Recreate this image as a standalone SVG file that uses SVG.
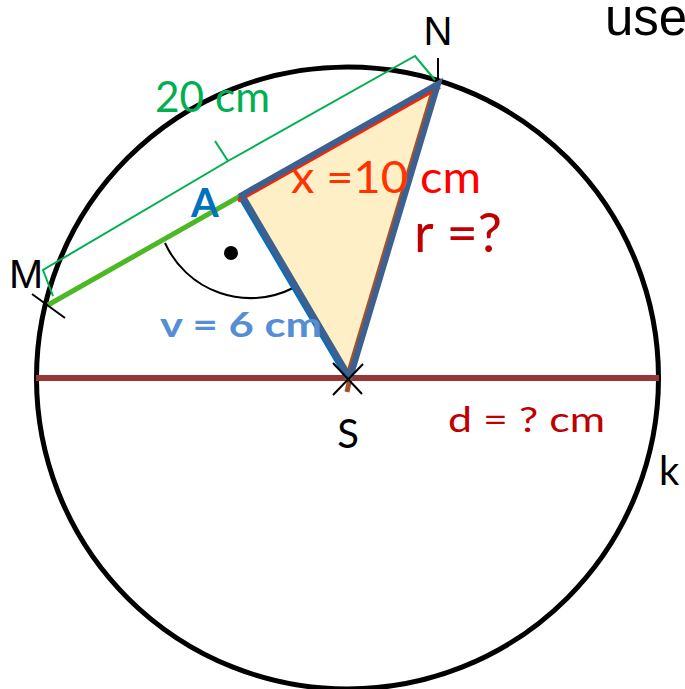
<svg xmlns="http://www.w3.org/2000/svg" width="685" height="689" viewBox="0 0 685 689">
<style>
.lbl{font-family:"Liberation Sans",Arial,sans-serif;}
.cal{font-family:Lato,"Open Sans",sans-serif;}
.tick{stroke:#000;stroke-width:2;fill:none;}
</style>
<rect width="685" height="689" fill="#fff"/>
<g id="circle-k">
<circle cx="347.5" cy="378" r="311" fill="none" stroke="#000" stroke-width="5"/>
</g>
<g id="connectors">
<line id="diameter" x1="36" y1="378" x2="659" y2="378" stroke="#953735" stroke-width="6"/>
<line id="chord-MN" x1="48" y1="305" x2="438" y2="84" stroke="#4DB826" stroke-width="5"/>
<path id="bracket" d="M53,296 L43,270 L228,161 L215,141 M228,161 L415,56 L435,80" fill="none" stroke="#00B050" stroke-width="2" stroke-linejoin="miter"/>
<path id="angle-arc" d="M165,243 A94,94 0 0 0 293,288" fill="none" stroke="#000" stroke-width="2"/>
<circle id="angle-dot" cx="231" cy="253" r="7" fill="#000"/>
</g>
<g id="triangle">
<polygon points="242,195 438,84 350,378" fill="#FFEFC6"/>
<line x1="239.4" y1="196.5" x2="347.4" y2="379.5" stroke="#0070C0" stroke-width="4"/>
<line x1="435" y1="83" x2="346" y2="380" stroke="#A0522D" stroke-width="4"/>
<line x1="238" y1="201" x2="440" y2="87" stroke="#FF2200" stroke-width="3.5"/>
<polygon points="242,195 438,84 350,378" fill="none" stroke="#3C6090" stroke-width="6" stroke-linejoin="miter"/>
<line x1="350" y1="378" x2="347" y2="392" stroke="#A0522D" stroke-width="5"/>
</g>
<g id="ticks">
<line class="tick" x1="32" y1="294" x2="65" y2="318"/>
<line class="tick" x1="438" y1="58" x2="438" y2="80"/>
<line class="tick" x1="333" y1="363" x2="362" y2="394"/>
<line class="tick" x1="363" y1="364" x2="333" y2="395"/>
</g>
<g id="node-N"><text class="lbl" x="438" y="45" font-size="40" text-anchor="middle" fill="#000">N</text></g>
<g id="node-M"><text class="lbl" x="9" y="288" font-size="41" fill="#000">M</text></g>
<g id="node-S"><text class="cal" x="348" y="448" font-size="40" text-anchor="middle" fill="#000">S</text></g>
<g id="node-k"><text class="cal" x="659" y="485" font-size="40" fill="#000">k</text></g>
<g id="node-A"><text class="cal" x="191" y="217" font-size="40" font-weight="bold" fill="#0070C0">A</text></g>
<g id="label-use"><text class="lbl" x="605" y="35" font-size="51" fill="#000">use</text></g>
<g id="label-20cm"><text class="cal" x="155" y="112" font-size="42" fill="#00B050" textLength="115" lengthAdjust="spacingAndGlyphs">20 cm</text></g>
<g id="label-x"><text class="cal" x="291" y="193" font-size="44" fill="#FF3300" textLength="190" lengthAdjust="spacingAndGlyphs">x =10 <tspan fill="#FF0000">cm</tspan></text></g>
<g id="label-r"><text class="cal" x="414" y="252" font-size="54" fill="#C00000" textLength="88" lengthAdjust="spacingAndGlyphs">r =?</text></g>
<g id="label-v"><text class="cal" x="160" y="337" font-size="35" font-weight="bold" fill="#558ED5" textLength="162" lengthAdjust="spacingAndGlyphs">v = 6 cm</text></g>
<g id="label-d"><text class="cal" x="448" y="432" font-size="35" fill="#C00000" textLength="157" lengthAdjust="spacingAndGlyphs">d = ? cm</text></g>
</svg>
